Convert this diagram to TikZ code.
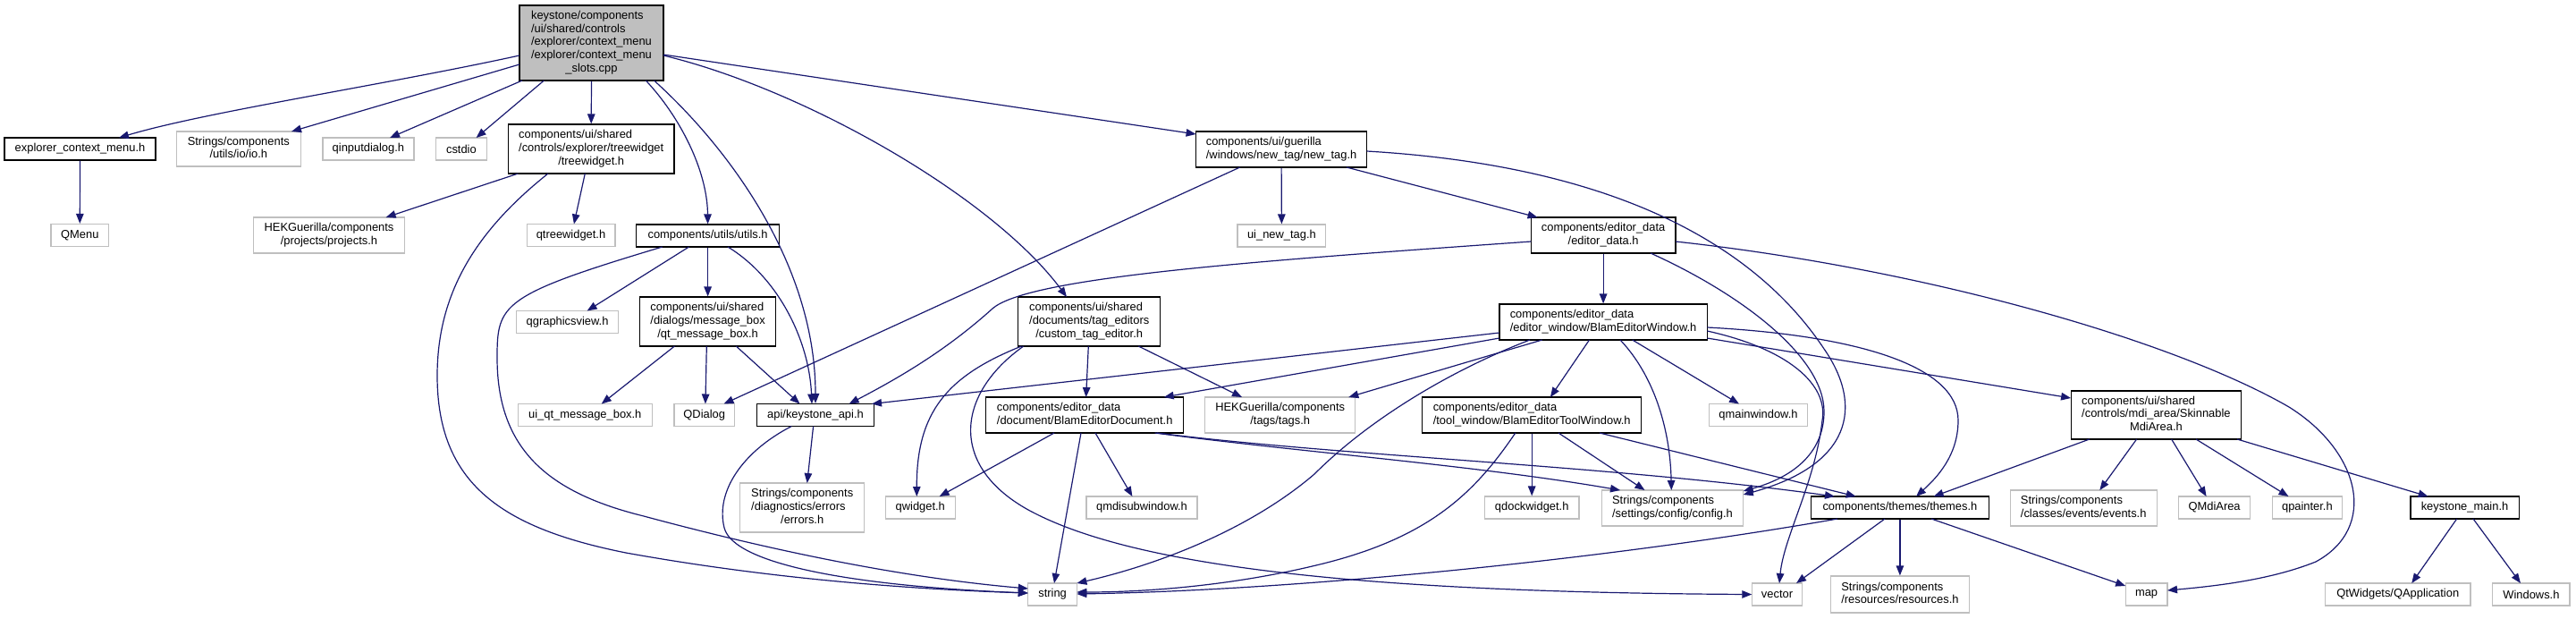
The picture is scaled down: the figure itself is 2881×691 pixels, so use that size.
\documentclass[tikz,border=0pt]{standalone}
\usepackage{fontspec}
\setmainfont{Liberation Sans}
\usetikzlibrary{arrows.meta,calc}
\definecolor{grey75}{HTML}{BFBFBF}
\definecolor{edgeblue}{HTML}{191970}
\newcommand\ml[2]{\begin{tabular}{@{}l@{}}#1\\\multicolumn{1}{@{}c@{}}{#2}\end{tabular}}
\begin{document}
\begin{tikzpicture}[x=1pt,y=-1pt,
  nbox/.style={rectangle, inner sep=0pt, line width=1.2pt, font=\fontsize{12.9}{14.8}\selectfont},
  docn/.style={nbox, draw=black},
  extn/.style={nbox, draw=grey75},
  mainn/.style={nbox, draw=black, fill=grey75},
  inc/.style={draw=edgeblue, line width=1.2pt, -{Triangle[length=11pt,width=8.5pt]}}]
\fill[white] (0,0) rectangle (2881,691);
\useasboundingbox (0,0) rectangle (2881,691);
% ---------------- nodes ----------------
\node[mainn, minimum width=161pt, minimum height=84pt] (main) at (661.5,48) {\ml{keystone/components\\/ui/shared/controls\\/explorer/context\_menu\\/explorer/context\_menu}{\_slots.cpp}};
\node[docn, minimum width=169pt, minimum height=25pt] (ecm) at (89.5,166.5) {explorer\_context\_menu.h};
\node[extn, minimum width=138.7pt, minimum height=39pt] (io) at (266.8,166.5) {\ml{Strings/components}{/utils/io/io.h}};
\node[extn, minimum width=102pt, minimum height=25pt] (qinput) at (411.9,166.5) {qinputdialog.h};
\node[extn, minimum width=57.4pt, minimum height=25pt] (cstdio) at (515.9,166.5) {cstdio};
\node[docn, minimum width=185.5pt, minimum height=55pt] (tree) at (661.2,166.5) {\ml{components/ui/shared\\/controls/explorer/treewidget}{/treewidget.h}};
\node[extn, minimum width=64.8pt, minimum height=25pt] (qmenu) at (89.3,263) {QMenu};
\node[extn, minimum width=168.5pt, minimum height=40pt] (proj) at (368,263) {\ml{HEKGuerilla/components}{/projects/projects.h}};
\node[extn, minimum width=98.8pt, minimum height=25pt] (qtree) at (638.5,263) {qtreewidget.h};
\node[docn, minimum width=159.8pt, minimum height=25pt] (utils) at (791.6,263.5) {components/utils/utils.h};
\node[extn, minimum width=114pt, minimum height=25pt] (qgv) at (634.6,360) {qgraphicsview.h};
\node[extn, minimum width=149.7pt, minimum height=25pt] (uiqmb) at (654.3,464) {ui\_qt\_message\_box.h};
\node[docn, minimum width=152.5pt, minimum height=55pt] (qmb) at (791.6,359.5) {\ml{components/ui/shared\\/dialogs/message\_box}{/qt\_message\_box.h}};
\node[docn, minimum width=191pt, minimum height=40pt] (newtag) at (1433.1,167) {\ml{components/ui/guerilla}{/windows/new\_tag/new\_tag.h}};
\node[extn, minimum width=98.7pt, minimum height=25pt] (uinewtag) at (1433.4,263.5) {ui\_new\_tag.h};
\node[docn, minimum width=158.8pt, minimum height=55pt] (cte) at (1218.2,359.5) {\ml{components/ui/shared\\/documents/tag\_editors}{/custom\_tag\_editor.h}};
\node[docn, minimum width=161.6pt, minimum height=40pt] (edata) at (1793.1,263) {\ml{components/editor\_data}{/editor\_data.h}};
\node[docn, minimum width=232.4pt, minimum height=40pt] (bew) at (1793.1,360) {\ml{components/editor\_data}{/editor\_window/BlamEditorWindow.h}};
\node[extn, minimum width=67.5pt, minimum height=25pt] (qdialog) at (787.7,464) {QDialog};
\node[docn, minimum width=131.3pt, minimum height=25pt] (api) at (912,464) {api/keystone\_api.h};
\node[extn, minimum width=138.7pt, minimum height=55pt] (errors) at (897.2,567.5) {\ml{Strings/components\\/diagnostics/errors}{/errors.h}};
\node[extn, minimum width=77.6pt, minimum height=25pt] (qwidget) at (1029.3,567.5) {qwidget.h};
\node[docn, minimum width=221.3pt, minimum height=40pt] (bed) at (1213.2,464) {\ml{components/editor\_data}{/document/BlamEditorDocument.h}};
\node[extn, minimum width=124pt, minimum height=25pt] (qmdisub) at (1277,567.5) {qmdisubwindow.h};
\node[extn, minimum width=54.6pt, minimum height=25pt] (str) at (1177.1,664.5) {string};
\node[extn, minimum width=168pt, minimum height=40pt] (tags) at (1431.7,464) {\ml{HEKGuerilla/components}{/tags/tags.h}};
\node[docn, minimum width=245.2pt, minimum height=40pt] (betw) at (1713.2,464) {\ml{components/editor\_data}{/tool\_window/BlamEditorToolWindow.h}};
\node[extn, minimum width=110.7pt, minimum height=25pt] (qmainw) at (1966.5,464) {qmainwindow.h};
\node[extn, minimum width=105.6pt, minimum height=25pt] (qdock) at (1713.2,567.5) {qdockwidget.h};
\node[extn, minimum width=158.4pt, minimum height=40pt] (config) at (1870.5,568) {\ml{Strings/components}{/settings/config/config.h}};
\node[docn, minimum width=198.9pt, minimum height=25pt] (themes) at (2124.9,567.5) {components/themes/themes.h};
\node[extn, minimum width=56.5pt, minimum height=25pt] (vec) at (1987.5,664.5) {vector};
\node[extn, minimum width=154.7pt, minimum height=41pt] (res) at (2124.9,664.5) {\ml{Strings/components}{/resources/resources.h}};
\node[docn, minimum width=190.6pt, minimum height=54pt] (sma) at (2411.4,464) {\ml{components/ui/shared\\/controls/mdi\_area/Skinnable}{MdiArea.h}};
\node[extn, minimum width=163.9pt, minimum height=40pt] (events) at (2330.2,568) {\ml{Strings/components}{/classes/events/events.h}};
\node[extn, minimum width=80.4pt, minimum height=25pt] (qmdiarea) at (2476.6,567.5) {QMdiArea};
\node[extn, minimum width=78.5pt, minimum height=25pt] (qpainter) at (2580.4,567.5) {qpainter.h};
\node[docn, minimum width=121.2pt, minimum height=25pt] (kmain) at (2756.5,567.5) {keystone\_main.h};
\node[extn, minimum width=46.8pt, minimum height=25pt] (map) at (2400.6,664.5) {map};
\node[extn, minimum width=162.5pt, minimum height=25pt] (qapp) at (2681.7,664.5) {QtWidgets/QApplication};
\node[extn, minimum width=86.3pt, minimum height=25pt] (win) at (2830.9,664.5) {Windows.h};
% ---------------- edges ----------------
% main
\draw[inc] ($(main)+(-80.5,14)$) .. controls (430,95) and (230,125) .. ($(ecm)+(43.5,-12.5)$);
\draw[inc] ($(main)+(-80.5,24)$) -- ($(io)+(59.2,-19.5)$);
\draw[inc] ($(main)+(-77.5,42)$) -- ($(qinput)+(24.1,-12.5)$);
\draw[inc] ($(main)+(-53.1,42)$) -- ($(cstdio)+(16.7,-12.5)$);
\draw[inc] (main.south) -- (tree.north);
\draw[inc] ($(main)+(60.8,42)$) .. controls (760,130) and (791,190) .. (utils.north);
\draw[inc] ($(main)+(70,42)$) .. controls (820,170) and (912,300) .. (api.north);
\draw[inc] ($(main)+(80.5,14)$) .. controls (900,100) and (1110,220) .. ($(cte)+(-25.2,-27.5)$);
\draw[inc] ($(main)+(80.5,13)$) -- ($(newtag)+(-95.5,-17)$);
% explorer_context_menu
\draw[inc] (ecm.south) -- (qmenu.north);
% treewidget
\draw[inc] ($(tree)+(-81.7,27.5)$) -- ($(proj)+(63.6,-20)$);
\draw[inc] ($(tree)+(-6.9,27.5)$) -- ($(qtree)+(3.4,-12.5)$);
\draw[inc] ($(tree)+(-48.2,27.5)$) .. controls (530,260) and (489,330) .. (489,420)
  .. controls (489,540) and (560,590) .. (700,618)
  .. controls (850,645) and (1000,658) .. ($(str)+(-27.3,-1.5)$);
% utils
\draw[inc] ($(utils)+(-21.1,12.5)$) -- ($(qgv)+(22,-12.5)$);
\draw[inc] ($(utils)+(-50.9,12.5)$) .. controls (560,330) and (556,340) .. (556,400)
  .. controls (556,500) and (610,550) .. (720,577)
  .. controls (850,612) and (1000,645) .. ($(str)+(-27.3,-6.5)$);
\draw[inc] (utils.south) -- (qmb.north);
\draw[inc] ($(utils)+(22.4,12.5)$) .. controls (870,310) and (905,380) .. ($(api)+(-4,-12.5)$);
% qt_message_box
\draw[inc] ($(qmb)+(-37.2,27.5)$) -- ($(uiqmb)+(18.4,-12.5)$);
\draw[inc] ($(qmb)+(-1.3,27.5)$) -- ($(qdialog)+(1.2,-12.5)$);
\draw[inc] ($(qmb)+(31.7,27.5)$) -- ($(api)+(-17.5,-12.5)$);
% keystone_api
\draw[inc] ($(api)+(-2.4,12.5)$) -- ($(errors)+(5.5,-27.5)$);
\draw[inc] ($(api)+(-26.7,12.5)$) .. controls (830,505) and (800,550) .. (810,590)
  .. controls (820,630) and (950,655) .. ($(str)+(-27.3,-1.5)$);
% new_tag
\draw[inc] ($(newtag)+(-46.4,20)$) -- ($(qdialog)+(21.8,-12.5)$);
\draw[inc] (newtag.south) -- (uinewtag.north);
\draw[inc] ($(newtag)+(72.9,20)$) -- ($(edata)+(-73.5,-20)$);
\draw[inc] ($(newtag)+(95.5,2)$) .. controls (1800,185) and (1960,270) .. (2040,390)
  .. controls (2085,455) and (2070,520) .. ($(config)+(79.2,-15)$);
% editor_data
\draw[inc] ($(edata)+(-80.8,7)$) .. controls (1400,292) and (1150,310) .. (1110,345)
  .. controls (1060,390) and (1010,420) .. ($(api)+(37.6,-12.5)$);
\draw[inc] (edata.south) -- (bew.north);
\draw[inc] ($(edata)+(52.9,20)$) .. controls (1950,330) and (2040,400) .. (2040,460)
  .. controls (2040,510) and (2000,535) .. ($(config)+(79.2,-19)$);
\draw[inc] ($(edata)+(80.8,7)$) .. controls (2150,300) and (2430,380) .. (2560,455)
  .. controls (2640,505) and (2660,590) .. (2590,628)
  .. controls (2540,648) and (2480,655) .. ($(map)+(23.4,-4.5)$);
% custom_tag_editor
\draw[inc] ($(cte)+(-75.8,27.5)$) .. controls (1060,420) and (1025,460) .. ($(qwidget)+(-4,-12.5)$);
\draw[inc] ($(cte)+(-0.9,27.5)$) -- ($(bed)+(1.4,-20)$);
\draw[inc] ($(cte)+(55.1,27.5)$) -- ($(tags)+(-42.7,-20)$);
\draw[inc] ($(cte)+(-73.5,27.5)$) .. controls (1070,440) and (1060,520) .. (1150,570)
  .. controls (1260,630) and (1500,662) .. ($(vec)+(-28.25,0)$);
% BlamEditorWindow
\draw[inc] ($(bew)+(-116.2,12)$) -- ($(api)+(63,-12.5)$);
\draw[inc] ($(bew)+(-116.2,18)$) -- ($(bed)+(88.5,-20)$);
\draw[inc] ($(bew)+(-68.4,20)$) -- ($(tags)+(76.6,-20)$);
\draw[inc] ($(bew)+(-82.1,20)$) .. controls (1620,415) and (1530,470) .. (1470,530)
  .. controls (1400,590) and (1300,630) .. ($(str)+(27.3,-12.5)$);
\draw[inc] ($(bew)+(-15.6,20)$) -- ($(betw)+(20.7,-20)$);
\draw[inc] ($(bew)+(18.9,20)$) .. controls (1850,420) and (1868,480) .. ($(config)+(-1.2,-20)$);
\draw[inc] ($(bew)+(32.6,20)$) -- ($(qmainw)+(-21.5,-12.5)$);
\draw[inc] ($(bew)+(116.2,10)$) .. controls (2000,390) and (2045,430) .. (2038,470)
  .. controls (2030,540) and (1995,600) .. ($(vec)+(2.5,-12.5)$);
\draw[inc] ($(bew)+(116.2,6)$) .. controls (2080,375) and (2190,410) .. (2190,470)
  .. controls (2190,510) and (2165,535) .. ($(themes)+(18.1,-12.5)$);
\draw[inc] ($(bew)+(116.2,18)$) -- ($(sma)+(-95.3,-19)$);
% BlamEditorDocument
\draw[inc] ($(bed)+(-34.2,20)$) -- ($(qwidget)+(21.3,-12.5)$);
\draw[inc] ($(bed)+(-4.2,20)$) -- ($(str)+(1.9,-12.5)$);
\draw[inc] ($(bed)+(11.8,20)$) -- ($(qmdisub)+(-10.6,-12.5)$);
\draw[inc] ($(bed)+(78.5,20)$) .. controls (1450,505) and (1650,520) .. ($(config)+(-58.5,-20)$);
\draw[inc] ($(bed)+(80.8,20)$) .. controls (1500,510) and (1800,520) .. ($(themes)+(-72.9,-12.5)$);
% BlamEditorToolWindow
\draw[inc] ($(betw)+(-18.4,20)$) .. controls (1650,550) and (1600,600) .. (1480,630)
  .. controls (1380,655) and (1280,662) .. ($(str)+(27.3,-2.5)$);
\draw[inc] (betw.south) -- (qdock.north);
\draw[inc] ($(betw)+(29.8,20)$) -- ($(config)+(-31,-20)$);
\draw[inc] ($(betw)+(75.8,20)$) -- ($(themes)+(-49.2,-12.5)$);
% themes
\draw[inc] ($(themes)+(-69.9,12.5)$) .. controls (1800,625) and (1450,660) .. ($(str)+(27.3,-0.5)$);
\draw[inc] ($(themes)+(-16.9,12.5)$) -- ($(vec)+(21.5,-12.5)$);
\draw[inc] (themes.south) -- (res.north);
\draw[inc] ($(themes)+(35.1,12.5)$) -- ($(map)+(-23.4,-9.5)$);
% SkinnableMdiArea
\draw[inc] ($(sma)+(-74.6,27)$) -- ($(themes)+(37.7,-12.5)$);
\draw[inc] ($(sma)+(-21.8,27)$) -- ($(events)+(18.1,-20)$);
\draw[inc] ($(sma)+(17.2,27)$) -- ($(qmdiarea)+(-9,-12.5)$);
\draw[inc] ($(sma)+(44.6,27)$) -- ($(qpainter)+(-20.9,-12.5)$);
\draw[inc] ($(sma)+(90.6,27)$) -- ($(kmain)+(-40.9,-12.5)$);
% keystone_main
\draw[inc] ($(kmain)+(-8.8,12.5)$) -- ($(qapp)+(15.5,-12.5)$);
\draw[inc] ($(kmain)+(9.5,12.5)$) -- ($(win)+(-11.9,-12.5)$);
\end{tikzpicture}
\end{document}
